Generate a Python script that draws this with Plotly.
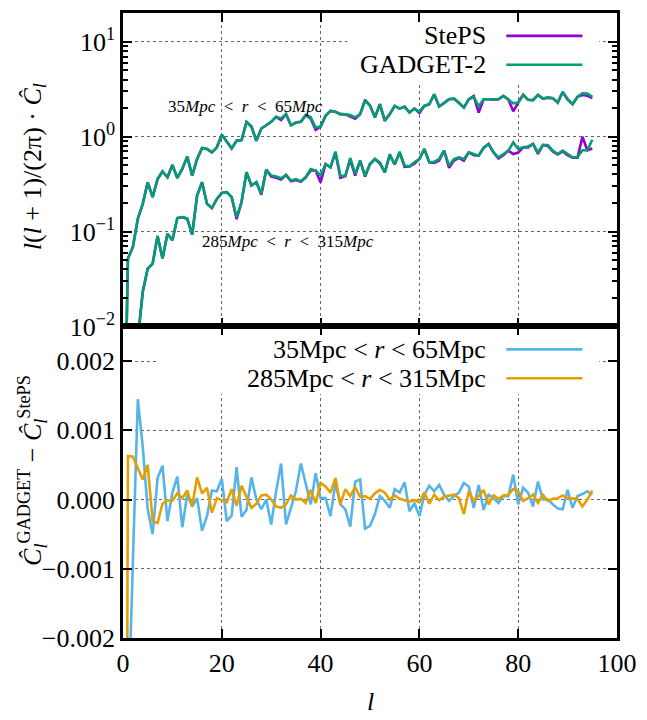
import plotly.graph_objects as go
from plotly.subplots import make_subplots

# multipole index
ell = list(range(0, 96))

# l(l+1)/(2pi) C_l, shell 35-65 Mpc
gadget_near = [1e-4, 0.052, 0.069, 0.136, 0.196, 0.331, 0.231, 0.359, 0.430, 0.374,
               0.504, 0.368, 0.457, 0.617, 0.390, 0.582, 0.759, 0.741, 0.684, 0.773,
               1.05, 0.887, 0.754, 0.908, 0.92, 1.435, 1.28, 0.908, 1.22, 1.32,
               1.435, 1.62, 1.56, 1.73, 1.32, 1.41, 1.44, 1.69, 1.60, 1.25,
               1.28, 1.66, 1.87, 1.83, 1.73, 1.72, 1.69, 1.60, 1.73, 2.39,
               2.13, 1.60, 2.20, 1.47, 1.73, 2.11, 1.98, 2.08, 1.80, 1.98,
               1.83, 2.11, 2.20, 2.80, 2.08, 2.25, 2.48, 2.52, 2.29, 2.03,
               2.48, 2.63, 2.10, 2.48, 2.48, 2.45, 2.48, 2.69, 2.48, 2.25,
               2.29, 2.76, 2.45, 2.43, 2.76, 2.52, 2.58, 2.55, 2.29, 2.96,
               2.48, 2.20, 2.63, 2.87, 2.85, 2.63]
steps_near = [1e-4, 0.052, 0.069, 0.136, 0.196, 0.331, 0.231, 0.359, 0.430, 0.374,
              0.504, 0.368, 0.457, 0.617, 0.390, 0.582, 0.759, 0.741, 0.684, 0.773,
              1.05, 0.887, 0.754, 0.908, 0.92, 1.435, 1.28, 0.908, 1.22, 1.32,
              1.435, 1.62, 1.50, 1.73, 1.32, 1.41, 1.44, 1.69, 1.55, 1.18,
              1.28, 1.66, 1.87, 1.83, 1.73, 1.72, 1.62, 1.55, 1.73, 2.45,
              2.13, 1.60, 2.20, 1.47, 1.73, 2.11, 1.98, 2.08, 1.80, 1.98,
              1.78, 2.11, 2.20, 2.80, 2.08, 2.25, 2.48, 2.52, 2.25, 2.03,
              2.48, 2.68, 1.80, 2.48, 2.48, 2.45, 2.48, 2.69, 2.48, 1.85,
              2.29, 2.76, 2.45, 2.43, 2.76, 2.52, 2.58, 2.55, 2.29, 2.96,
              2.48, 2.20, 2.63, 2.75, 2.70, 2.55]

# l(l+1)/(2pi) C_l, shell 285-315 Mpc
gadget_far = [1e-4, 5e-4, 0.002, 0.0073, 0.0232, 0.0408, 0.046, 0.090, 0.052, 0.095,
              0.081, 0.139, 0.142, 0.137, 0.093, 0.240, 0.331, 0.196, 0.177, 0.221,
              0.256, 0.261, 0.231, 0.142, 0.205, 0.422, 0.306, 0.331, 0.250, 0.450,
              0.390, 0.38, 0.365, 0.395, 0.345, 0.358, 0.340, 0.374, 0.457, 0.44,
              0.390, 0.515, 0.476, 0.697, 0.390, 0.385, 0.597, 0.406, 0.56, 0.390,
              0.515, 0.582, 0.537, 0.422, 0.657, 0.51, 0.695, 0.496, 0.485, 0.537,
              0.582, 0.742, 0.537, 0.545, 0.582, 0.713, 0.496, 0.582, 0.607, 0.582,
              0.684, 0.657, 0.632, 0.773, 0.838, 0.684, 0.607, 0.657, 0.713, 0.871,
              0.742, 0.773, 0.79, 0.838, 0.684, 0.818, 0.818, 0.713, 0.657, 0.713,
              0.657, 0.607, 0.607, 0.72, 0.72, 0.93]
steps_far = [1e-4, 5e-4, 0.002, 0.0073, 0.0232, 0.0408, 0.046, 0.090, 0.052, 0.095,
             0.081, 0.139, 0.142, 0.137, 0.093, 0.240, 0.331, 0.196, 0.177, 0.221,
             0.256, 0.261, 0.231, 0.135, 0.205, 0.422, 0.306, 0.331, 0.245, 0.450,
             0.380, 0.37, 0.355, 0.395, 0.340, 0.350, 0.335, 0.374, 0.440, 0.44,
             0.330, 0.515, 0.476, 0.680, 0.370, 0.385, 0.570, 0.390, 0.56, 0.380,
             0.515, 0.582, 0.520, 0.422, 0.640, 0.51, 0.680, 0.480, 0.485, 0.520,
             0.582, 0.742, 0.537, 0.530, 0.560, 0.713, 0.470, 0.560, 0.600, 0.560,
             0.684, 0.640, 0.632, 0.760, 0.838, 0.684, 0.590, 0.640, 0.713, 0.657,
             0.680, 0.773, 0.77, 0.838, 0.660, 0.818, 0.800, 0.700, 0.650, 0.700,
             0.640, 0.600, 0.600, 1.00, 0.72, 0.75]

# C_l^GADGET - C_l^StePS, in units of 1e-3
diff_near = [-10.0, -3.3, -0.9, 1.45, 0.76, -0.14, -0.50, 0.31, 0.49, -0.31,
             0.10, 0.33, -0.40, 0.07, -0.10, 0.02, -0.45, -0.24, 0.13, 0.12,
             0.30, -0.31, -0.23, 0.47, -0.25, -0.15, 0.32, 0.00, -0.14, 0.00,
             -0.36, 0.12, 0.52, -0.36, -0.12, 0.12, 0.52, 0.24, -0.07, 0.38,
             0.02, 0.02, -0.24, 0.24, -0.07, -0.14, -0.39, 0.26, 0.29, -0.42,
             -0.38, -0.21, 0.05, -0.02, -0.12, 0.15, 0.10, 0.25, -0.17, -0.05,
             -0.24, 0.07, 0.20, 0.12, 0.21, 0.07, -0.02, 0.05, 0.10, 0.24,
             0.19, -0.12, 0.21, -0.15, 0.07, 0.02, -0.05, 0.05, 0.05, 0.36,
             -0.07, 0.17, 0.10, -0.10, 0.26, 0.00, 0.00, -0.07, -0.13, -0.14,
             0.14, -0.12, 0.05, 0.08, 0.12, 0.07]
diff_far = [-20.0, 0.63, 0.62, 0.45, 0.29, 0.50, -0.31, -0.34, -0.06, -0.01,
            -0.02, 0.09, 0.02, 0.13, -0.09, 0.32, 0.09, 0.17, -0.19, 0.02,
            -0.01, -0.04, 0.15, -0.09, 0.20, 0.04, -0.12, -0.06, 0.06, 0.07,
            0.00, -0.10, -0.12, -0.07, 0.06, 0.00, 0.01, -0.05, 0.14, -0.05,
            0.24, 0.19, 0.10, 0.31, -0.07, 0.15, 0.05, 0.18, 0.04, 0.05,
            0.01, 0.09, 0.14, 0.10, 0.00, 0.06, 0.01, -0.01, -0.03, -0.01,
            -0.04, 0.10, -0.06, 0.07, -0.01, 0.04, 0.05, 0.07, 0.02, -0.21,
            0.12, -0.02, 0.05, 0.14, -0.07, 0.06, 0.01, 0.06, 0.07, 0.15,
            0.12, -0.02, 0.02, 0.07, -0.05, 0.07, -0.02, 0.01, 0.02, 0.06,
            0.02, 0.02, 0.01, -0.10, 0.00, 0.13]

for arr in (gadget_near, steps_near, gadget_far, steps_far, diff_near, diff_far):
    assert len(arr) == len(ell)

x_ticks = [0, 20, 40, 60, 80, 100]
top_tickvals = [0.01, 0.1, 1, 10]
top_ticktext = ["10<sup>\u22122</sup>", "10<sup>\u22121</sup>", "10<sup>0</sup>", "10<sup>1</sup>"]
top_minor_ticks = [m * d for d in (0.01, 0.1, 1, 10) for m in range(2, 10) if m * d < 20.2]
bot_tickvals = [-0.002, -0.001, 0.0, 0.001, 0.002]
bot_ticktext = ["\u22120.002", "\u22120.001", "0.000", "0.001", "0.002"]

C_PURPLE = "#9400D3"
C_GREEN = "#009E73"
C_BLUE = "#56B4E9"
C_ORANGE = "#E69F00"
FONT = "Liberation Serif"

fig = make_subplots(rows=2, cols=1, shared_xaxes=True, vertical_spacing=0,
                    row_heights=[315, 313])

lw = 2.6
fig.add_trace(go.Scatter(x=ell, y=steps_near, mode="lines", line=dict(color=C_PURPLE, width=lw)), row=1, col=1)
fig.add_trace(go.Scatter(x=ell, y=steps_far, mode="lines", line=dict(color=C_PURPLE, width=lw)), row=1, col=1)
fig.add_trace(go.Scatter(x=ell, y=gadget_near, mode="lines", line=dict(color=C_GREEN, width=lw)), row=1, col=1)
fig.add_trace(go.Scatter(x=ell, y=gadget_far, mode="lines", line=dict(color=C_GREEN, width=lw)), row=1, col=1)

fig.add_trace(go.Scatter(x=ell, y=[v * 1e-3 for v in diff_near], mode="lines",
                         line=dict(color=C_BLUE, width=lw)), row=2, col=1)
fig.add_trace(go.Scatter(x=ell, y=[v * 1e-3 for v in diff_far], mode="lines",
                         line=dict(color=C_ORANGE, width=lw)), row=2, col=1)

axis_common = dict(
    showline=True, linecolor="black", linewidth=2.6, mirror="allticks",
    ticks="inside", ticklen=9, tickwidth=2, tickcolor="black",
    showgrid=True, gridcolor="#666666", griddash="dot", gridwidth=1,
    zeroline=False,
    tickfont=dict(family=FONT, size=26, color="black"),
)

fig.update_xaxes(**axis_common, range=[0, 100], tickmode="array", tickvals=x_ticks)
fig.update_xaxes(showticklabels=False, row=1, col=1)
fig.update_xaxes(showticklabels=True, row=2, col=1)

fig.update_yaxes(**axis_common, row=1, col=1)
fig.update_yaxes(type="log", range=[-2, 1.304], tickmode="array",
                 tickvals=top_tickvals, ticktext=top_ticktext,
                 minor=dict(tickmode="array", tickvals=top_minor_ticks, ticks="inside",
                            ticklen=5, tickwidth=1.5, tickcolor="black", showgrid=False),
                 row=1, col=1)
fig.update_yaxes(**axis_common, row=2, col=1)
fig.update_yaxes(range=[-0.002, 0.0025], tickmode="array", tickvals=bot_tickvals,
                 ticktext=bot_ticktext, row=2, col=1)

# opaque key boxes (hide grid behind keys, as in the original)
fig.add_shape(type="rect", xref="x", yref="y domain", x0=45.4, x1=96.4, y0=0.778, y1=0.966,
              fillcolor="white", line=dict(width=0), layer="above")
fig.add_shape(type="rect", xref="x2", yref="y2 domain", x0=6.8, x1=96.4, y0=0.783, y1=0.970,
              fillcolor="white", line=dict(width=0), layer="above")

def px_x(p):
    return (p - 123) / 500.0

def px_y(p):
    return (638 - p) / 628.0

key_font = dict(family=FONT, size=26, color="black")
keys = [
    ("StePS", C_PURPLE, 33),
    ("GADGET-2", C_GREEN, 62),
    ("35Mpc &lt; <i>r</i> &lt; 65Mpc", C_BLUE, 348),
    ("285Mpc &lt; <i>r</i> &lt; 315Mpc", C_ORANGE, 377),
]
for txt, col, ypx in keys:
    fig.add_annotation(xref="paper", yref="paper", x=px_x(492), y=px_y(ypx),
                       xanchor="right", yanchor="middle", text=txt, showarrow=False,
                       font=key_font)
    fig.add_shape(type="line", xref="paper", yref="paper", x0=px_x(511), x1=px_x(588),
                  y0=px_y(ypx), y1=px_y(ypx), line=dict(color=col, width=2.6),
                  layer="above")

lab_font = dict(family=FONT, size=17, color="black")
sp = "&nbsp;&nbsp;"
fig.add_annotation(xref="paper", yref="paper", x=px_x(167), y=px_y(104), xanchor="left",
                   yanchor="middle", showarrow=False, font=lab_font,
                   text="35<i>Mpc</i>" + sp + "&lt;" + sp + "<i>r</i>" + sp + "&lt;" + sp + "65<i>Mpc</i>")
fig.add_annotation(xref="paper", yref="paper", x=px_x(201), y=px_y(240), xanchor="left",
                   yanchor="middle", showarrow=False, font=lab_font,
                   text="285<i>Mpc</i>" + sp + "&lt;" + sp + "<i>r</i>" + sp + "&lt;" + sp + "315<i>Mpc</i>")

title_font = dict(family=FONT, size=26, color="black")
fig.add_annotation(xref="paper", yref="paper", x=px_x(33), y=px_y(165), textangle=-90,
                   xanchor="center", yanchor="middle", showarrow=False, font=title_font,
                   text="<i>l</i>(<i>l</i> + 1)/(2\u03c0) \u00b7 <i>C\u0302</i><sub><i>l</i></sub>")
fig.add_annotation(xref="paper", yref="paper", x=px_x(31), y=px_y(470), textangle=-90,
                   xanchor="center", yanchor="middle", showarrow=False, font=title_font,
                   text="<i>C\u0302</i><sub><i>l</i></sub><sup>GADGET</sup> \u2212 <i>C\u0302</i><sub><i>l</i></sub><sup>StePS</sup>")
fig.add_annotation(xref="paper", yref="paper", x=px_x(373), y=px_y(702),
                   xanchor="center", yanchor="middle", showarrow=False, font=title_font,
                   text="<i>l</i>")

fig.update_layout(
    width=647, height=720, showlegend=False,
    margin=dict(l=123, r=24, t=10, b=82),
    paper_bgcolor="white", plot_bgcolor="white",
)

fig.write_html("out.html")
